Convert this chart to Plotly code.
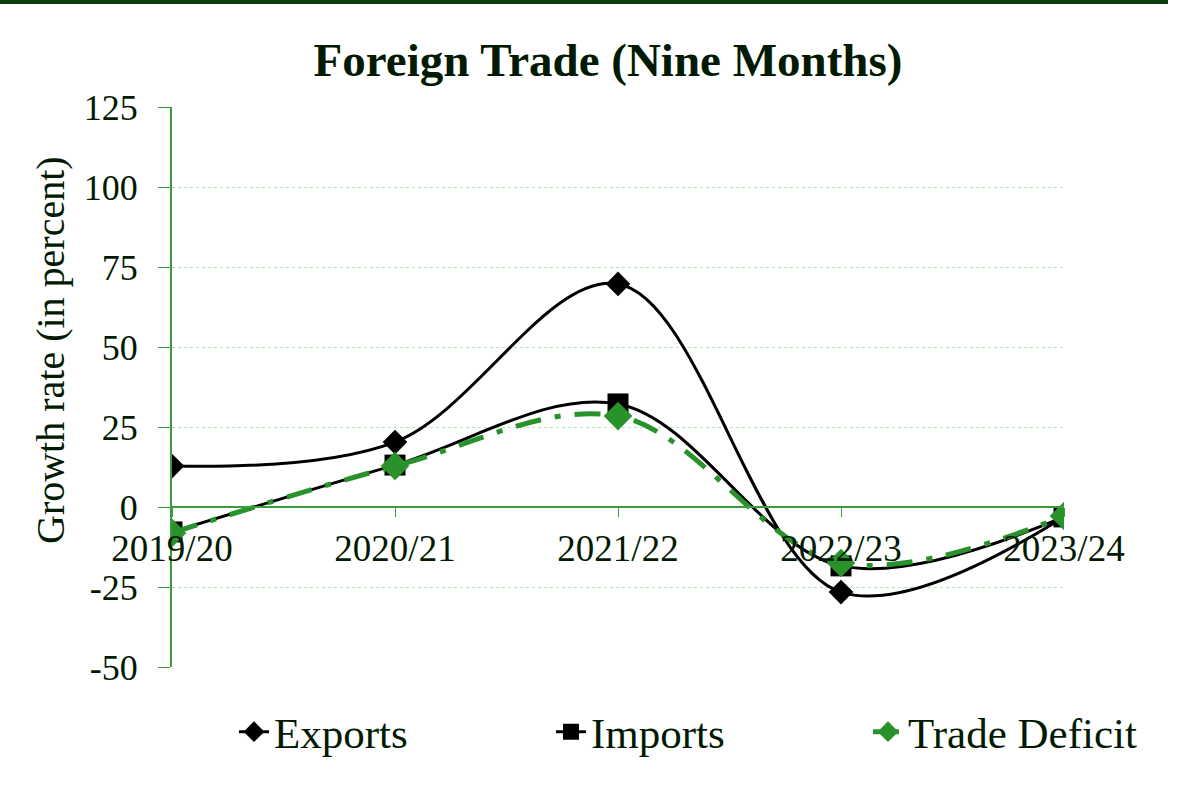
import plotly.graph_objects as go

years = ["2019/20", "2020/21", "2021/22", "2022/23", "2023/24"]
exports = [12.8, 20.3, 69.7, -26.6, -3.1]
imports = [-7.8, 13.1, 32.2, -18.4, -3.1]
trade_deficit = [-8.1, 12.8, 28.4, -17.5, -2.8]
y_ticks = [-50, -25, 0, 25, 50, 75, 100, 125]
y_tick_text = ["-50", "-25", "0", "25", "50", "75", "100", "125"]

TXT = "#011a01"
AX = "#3a9d3a"
GRID = "#b3e3b3"
GREEN = "#2a922a"
FONT = "Liberation Serif"

fig = go.Figure()
fig.add_trace(go.Scatter(
    x=years, y=exports, name="Exports", mode="lines+markers",
    line=dict(color="black", width=3, shape="spline", smoothing=1.0),
    marker=dict(symbol="diamond", size=19, color="black"),
))
fig.add_trace(go.Scatter(
    x=years, y=imports, name="Imports", mode="lines+markers",
    line=dict(color="black", width=3, shape="spline", smoothing=1.0),
    marker=dict(symbol="square", size=21, color="black"),
))
fig.add_trace(go.Scatter(
    x=years, y=trade_deficit, name="Trade Deficit", mode="lines+markers",
    line=dict(color=GREEN, width=5, shape="spline", smoothing=1.0, dash="26px,14px,6px,14px"),
    marker=dict(symbol="diamond", size=22, color=GREEN),
))

ymin, ymax = -50, 125
fig.update_layout(
    width=1200, height=800,
    paper_bgcolor="white", plot_bgcolor="white",
    margin=dict(l=172, r=136, t=107, b=133, autoexpand=False),
    font=dict(family=FONT, color=TXT, size=36),
    title=dict(text="<b>Foreign Trade (Nine Months)</b>", x=(608-172)/892, xref="paper", xanchor="center",
               y=0.925, yanchor="middle", font=dict(size=47, family=FONT, color=TXT)),
    xaxis=dict(
        type="category", range=[0, 4], anchor="free",
        position=(0 - ymin) / (ymax - ymin),
        showline=True, linecolor=AX, linewidth=2,
        ticks="outside", ticklen=9, tickcolor=AX, tickwidth=1,
        showgrid=False, zeroline=False,
        tickfont=dict(size=37, family=FONT, color=TXT),
    ),
    yaxis=dict(
        range=[ymin, ymax], tickvals=y_ticks, ticktext=y_tick_text, domain=[0, 1],
        showline=True, linecolor=AX, linewidth=2,
        ticks="outside", ticklen=12, tickcolor=AX, ticklabelstandoff=13,
        showgrid=True, gridcolor=GRID, griddash="dot", gridwidth=1,
        zeroline=False,
        tickfont=dict(size=36, family=FONT, color=TXT),
    ),
    legend=dict(orientation="h", x=(1185-172)/892, xanchor="right", y=-0.054, yanchor="top",
                font=dict(size=43, family=FONT, color=TXT), entrywidth=272, entrywidthmode="pixels",
                traceorder="normal"),
    annotations=[dict(text="Growth rate (in percent)", textangle=-90, showarrow=False,
                      xref="paper", yref="paper", x=(50-172)/892, y=(667-350)/560,
                      xanchor="center", yanchor="middle",
                      font=dict(size=40, family=FONT, color=TXT))],
    shapes=[dict(type="line", xref="paper", yref="paper",
                 x0=-172/892, x1=(1168-172)/892, y0=(667-2)/560, y1=(667-2)/560,
                 line=dict(color="#0b3a0b", width=4))],
)

fig.write_html("out.html", config={"displayModeBar": False},
               post_script="document.body.style.margin='0';document.body.style.padding='0';")
